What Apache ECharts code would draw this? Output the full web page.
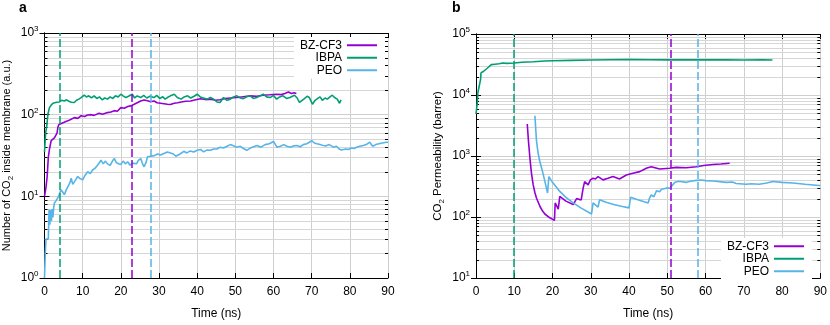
<!DOCTYPE html>
<html>
<head>
<meta charset="utf-8">
<script src="https://cdn.jsdelivr.net/npm/echarts@6/dist/echarts.min.js"></script>
<style>
  html, body { margin: 0; padding: 0; background: #fff; }
  #chart { width: 830px; height: 325px; }
</style>
</head>
<body>
<div id="chart"></div>
<script>
  // 名称与颜色
  const names = ['BZ-CF3', 'IBPA', 'PEO']
  const colors = ['#9400d3', '#009e73', '#56b4e9']

  // a: 膜内CO2数目 [t(ns), 数目]
  const bzA = [[0, 10], [0.4, 13], [0.7, 17.5], [1.0, 30], [1.3, 38], [1.75, 48], [2.2, 50], [2.6, 52], [3.0, 54], [3.3, 60],
    [3.5, 70], [3.8, 76], [4.2, 79], [5.0, 80], [6.1, 84], [7.0, 88], [7.8, 92], [8.7, 90], [9.6, 97], [10.5, 95],
    [11.3, 99], [12.2, 100], [13.0, 98], [14.3, 104], [15.2, 101], [16.5, 106], [17.4, 108], [18.3, 112], [19.1, 110], [20.0, 122],
    [20.9, 120], [21.8, 126], [22.6, 128], [23.5, 134], [24.3, 140], [25.2, 147], [26.1, 151], [27.0, 148], [27.8, 144], [28.7, 147],
    [29.5, 140], [30.4, 138], [31.3, 136], [32.2, 134], [33.0, 133], [34.0, 138], [34.9, 140], [35.8, 143], [37.0, 146], [38.3, 147],
    [39.6, 152], [40.9, 157], [42.2, 153], [43.5, 155], [44.8, 150], [46.0, 152], [47.3, 158], [48.7, 160], [50.4, 162], [52.1, 166],
    [53.9, 170], [55.6, 168], [57.3, 173], [59.0, 175], [60.8, 178], [62.0, 176], [63.0, 182], [63.9, 189], [64.7, 182], [65.4, 186], [66.0, 182]]
  const ibpaA = [[0, 35], [0.3, 60], [0.6, 73], [0.9, 102], [1.3, 122], [1.7, 130], [2.2, 138], [2.7, 136], [3.2, 142], [3.9, 143],
    [4.5, 150], [5.2, 147], [5.8, 152], [6.4, 146], [7.0, 142], [7.8, 141], [8.4, 150], [9.0, 155], [9.6, 162], [10.4, 173],
    [11.0, 165], [11.6, 170], [12.3, 160], [13.0, 170], [13.7, 158], [14.4, 165], [15.1, 152], [15.8, 160], [16.5, 155], [17.2, 165],
    [17.9, 158], [18.6, 170], [19.3, 165], [20.0, 178], [20.6, 170], [21.3, 162], [22.0, 168], [23.0, 178], [23.6, 160], [24.3, 170],
    [25.2, 162], [26.0, 172], [26.8, 160], [27.6, 168], [28.7, 162], [29.4, 172], [30.2, 158], [31.0, 166], [31.6, 155], [32.2, 162],
    [33.0, 170], [34.0, 178], [34.8, 162], [35.8, 155], [36.6, 165], [37.5, 170], [38.3, 160], [39.2, 168], [40.0, 178], [40.8, 165],
    [41.6, 160], [42.6, 155], [43.5, 162], [44.3, 155], [45.2, 143], [46.0, 141], [46.9, 162], [47.8, 150], [48.7, 155], [49.5, 165],
    [50.4, 170], [51.3, 160], [52.1, 157], [53.0, 166], [53.9, 170], [54.7, 158], [55.6, 162], [56.5, 170], [57.3, 178], [58.2, 165],
    [59.1, 162], [60.0, 172], [60.8, 155], [61.6, 165], [62.5, 170], [63.4, 158], [64.3, 162], [65.5, 173], [66.2, 160], [66.8, 141],
    [67.5, 150], [68.1, 157], [68.8, 168], [69.4, 162], [70.2, 134], [70.9, 150], [71.5, 157], [72.2, 165], [72.8, 150], [73.5, 160],
    [74.1, 155], [74.8, 165], [75.4, 173], [76.0, 162], [76.7, 155], [77.3, 138], [77.7, 152]]
  const peoA = [[0, 1], [0.2, 2], [0.4, 3], [1.0, 3], [1.2, 6.9], [1.4, 4.5], [1.6, 6.8], [1.8, 5], [2.0, 7], [2.2, 5.5],
    [2.4, 7.2], [2.6, 8.3], [3.0, 8.8], [3.7, 10], [4.3, 12], [4.8, 11.2], [5.2, 10.5], [5.7, 12], [6.1, 12.6], [6.6, 14.5],
    [7.0, 16.7], [7.4, 14], [7.8, 13.8], [8.2, 16], [8.7, 17.5], [9.3, 16.5], [10.0, 15.9], [10.6, 18], [11.3, 20], [12.0, 19],
    [12.6, 21], [13.2, 22], [13.9, 24], [14.4, 26], [14.8, 27.7], [15.4, 25], [16.0, 27], [16.5, 25], [17.2, 24], [17.8, 27],
    [18.3, 29], [18.8, 26], [19.4, 25], [20.0, 24.6], [20.6, 27], [21.2, 25], [21.8, 26.5], [22.4, 24], [23.0, 25.5], [23.5, 26.5],
    [24.1, 25], [24.6, 27.5], [25.2, 29], [25.7, 25], [26.1, 23], [26.6, 26], [27.0, 30.5], [27.4, 29], [27.8, 31], [28.3, 30],
    [28.8, 31.5], [29.6, 33], [30.4, 32], [31.3, 33.5], [32.2, 35], [33.0, 34], [33.8, 33], [34.4, 31], [34.8, 30.5], [35.5, 33],
    [36.5, 35.6], [37.3, 34], [38.2, 36], [39.1, 35], [40.0, 36.6], [40.9, 37.5], [41.7, 35], [42.6, 37], [43.5, 36.6], [44.3, 38],
    [45.2, 38], [46.0, 40], [46.9, 39], [47.8, 41], [48.7, 43], [49.5, 41.5], [50.4, 40], [51.3, 41], [52.1, 38.5], [53.0, 36.6],
    [53.9, 39], [54.8, 40.5], [55.7, 42], [56.7, 40], [57.8, 43], [58.9, 44], [60.0, 47], [60.9, 40], [61.8, 41], [62.7, 43],
    [63.5, 41], [64.4, 40], [65.3, 41.5], [66.1, 42], [67.0, 40.5], [67.8, 43], [68.7, 44], [69.4, 46], [70.0, 48], [70.7, 45],
    [71.4, 44], [72.2, 43], [73.0, 42], [73.8, 41.5], [74.6, 43], [75.7, 40], [76.5, 41], [77.2, 38], [77.8, 37], [78.3, 36],
    [78.9, 38], [79.6, 37.5], [80.4, 39], [81.2, 38.5], [81.8, 40], [82.6, 41], [83.5, 42], [84.3, 43], [85.2, 46], [86.0, 41],
    [86.8, 43], [87.6, 44], [88.5, 45], [89.6, 46], [90, 46]]

  // b: CO2渗透率 [t(ns), barrer]
  const bzB = [[13.4, 3350], [13.7, 1800], [14.1, 910], [14.5, 520], [14.95, 336], [15.4, 250], [15.8, 205], [16.7, 150], [17.4, 125],
    [18.0, 112], [19.2, 98], [20.5, 88], [20.7, 170], [21.5, 135], [21.9, 218], [23.5, 182], [25.4, 160], [25.8, 155], [26.3, 200],
    [26.7, 200], [27.5, 190], [28.0, 297], [28.4, 381], [29.3, 336], [29.9, 406], [30.6, 432], [31.2, 420], [31.9, 460], [33.2, 406],
    [34.5, 432], [35.8, 460], [37.5, 420], [39.3, 489], [41.0, 521], [42.8, 555], [44.5, 630], [45.8, 668], [48.0, 611], [50.6, 630],
    [52.3, 650], [55.0, 640], [57.6, 668], [59.5, 700], [61.9, 727], [64.0, 740], [66.3, 760]]
  const ibpaB = [[0, 4900], [0.3, 7000], [0.5, 11000], [1.0, 11500], [1.2, 18000], [1.3, 23000], [2.0, 24500], [3.0, 27700], [3.5, 28500],
    [4.0, 31500], [5.0, 32000], [6.0, 32500], [7.0, 33500], [8.0, 33000], [10, 33500], [12, 34500], [15, 35000], [18, 36000], [20, 36500],
    [25, 37000], [30, 37500], [35, 37800], [40, 38000], [45, 37800], [50, 37700], [55, 37600], [60, 37700], [65, 37600], [70, 37500],
    [75, 37700], [77.5, 37500]]
  const peoB = [[15.4, 4570], [15.8, 1800], [16.2, 1150], [16.7, 805], [17.2, 620], [17.6, 490], [18.2, 340], [18.7, 247], [19.05, 460],
    [20.0, 370], [21.9, 263], [23.5, 210], [25.4, 170], [27.5, 140], [30.2, 112], [30.6, 170], [31.9, 145], [32.3, 192], [34.0, 175],
    [36.0, 160], [38.0, 150], [40.0, 141], [40.4, 210], [42.5, 190], [45.0, 170], [45.3, 200], [45.8, 230], [46.5, 215], [47.2, 270],
    [48.0, 260], [48.5, 285], [49.7, 297], [50.8, 297], [51.3, 330], [52.0, 370], [52.3, 370], [53, 385], [55, 370], [56, 385],
    [57.6, 398], [59, 405], [60, 395], [62, 390], [65.4, 370], [67, 375], [68, 355], [70.6, 345], [72, 350], [74, 345], [76, 360],
    [77.6, 382], [80, 370], [82.8, 360], [86, 345], [89.7, 329], [90, 328]]

  // 竖直虚线位置 (BZ-CF3, IBPA, PEO)
  const cutA = [22.9, 3.9, 27.9]
  const cutB = [51.0, 9.9, 58.0]

  // 坐标轴
  const xTicks = [0, 90, 10]
  const decadesA = [1, 10, 100]
  const decadesB = [10, 100, 1000, 10000]
  const minorSteps = [2, 3, 4, 5, 6, 7, 8, 9]

  const font = 'Liberation Sans, Arial, sans-serif'
  const minorOf = (decades) => decades.flatMap(d => minorSteps.map(s => d * s))

  function powLabel (v) {
    return '{b|10}{s|' + Math.round(Math.log10(v)) + '}'
  }

  // 次刻度与次网格线
  function minorGrid (params, api) {
    const v = api.value(1)
    const a = api.coord([xTicks[0], v])
    const b = api.coord([xTicks[1], v])
    const y = Math.round(a[1]) + 0.5
    return {
      type: 'group',
      children: [
        {type: 'line', shape: {x1: a[0], y1: y, x2: b[0], y2: y}, style: {stroke: '#d6d6d6', lineWidth: 1}},
        {type: 'line', shape: {x1: a[0], y1: y, x2: a[0] + 3, y2: y}, style: {stroke: '#000', lineWidth: 1}},
        {type: 'line', shape: {x1: b[0] - 3, y1: y, x2: b[0], y2: y}, style: {stroke: '#000', lineWidth: 1}}
      ]
    }
  }

  function xAxes (gridIndex) {
    return [{
      gridIndex: gridIndex,
      type: 'value',
      min: xTicks[0],
      max: xTicks[1],
      interval: xTicks[2],
      position: 'bottom',
      axisLine: {lineStyle: {color: '#000', width: 1}},
      axisTick: {inside: true, length: 5, lineStyle: {color: '#000'}},
      axisLabel: {fontSize: 12, color: '#000', margin: 8, fontFamily: font},
      splitLine: {show: true, lineStyle: {color: '#cfcfcf', width: 1}},
      name: 'Time (ns)',
      nameLocation: 'middle',
      nameGap: 30,
      nameTextStyle: {fontSize: 12, color: '#000', fontFamily: font}
    }, {
      gridIndex: gridIndex,
      type: 'value',
      min: xTicks[0],
      max: xTicks[1],
      interval: xTicks[2],
      position: 'top',
      axisLine: {lineStyle: {color: '#000', width: 1}},
      axisTick: {inside: true, length: 5, lineStyle: {color: '#000'}},
      axisLabel: {show: false},
      splitLine: {show: false}
    }]
  }

  function yAxes (gridIndex, decades, nameParts, nameSize) {
    const min = decades[0]
    const max = decades[decades.length - 1] * 10
    return [{
      gridIndex: gridIndex,
      type: 'log',
      logBase: 10,
      min: min,
      max: max,
      position: 'left',
      axisLine: {lineStyle: {color: '#000', width: 1}},
      axisTick: {inside: true, length: 5, lineStyle: {color: '#000'}},
      axisLabel: {
        formatter: powLabel,
        margin: 6,
        rich: {
          b: {fontSize: 12, color: '#000', lineHeight: 16, fontFamily: font},
          s: {fontSize: 8, color: '#000', lineHeight: 8, verticalAlign: 'top', fontFamily: font}
        }
      },
      splitLine: {show: true, lineStyle: {color: '#cfcfcf', width: 1}},
      name: '{n|' + nameParts[0] + '}{u|2}{n|' + nameParts[1] + '}',
      nameLocation: 'middle',
      nameGap: 30,
      nameTextStyle: {
        rich: {
          n: {fontSize: nameSize, color: '#000', lineHeight: 16, fontFamily: font},
          u: {fontSize: 8, color: '#000', lineHeight: 8, verticalAlign: 'bottom', fontFamily: font}
        }
      }
    }, {
      gridIndex: gridIndex,
      type: 'log',
      logBase: 10,
      min: min,
      max: max,
      position: 'right',
      axisLine: {lineStyle: {color: '#000', width: 1}},
      axisTick: {inside: true, length: 5, lineStyle: {color: '#000'}},
      axisLabel: {show: false},
      splitLine: {show: false}
    }]
  }

  function lineSeries (data, idx, axisIndex, cut) {
    return {
      name: names[idx],
      type: 'line',
      xAxisIndex: axisIndex,
      yAxisIndex: axisIndex,
      data: data,
      color: colors[idx],
      showSymbol: false,
      symbol: 'none',
      lineStyle: {width: 1.6, color: colors[idx]},
      z: 3,
      markLine: {
        silent: true,
        symbol: ['none', 'none'],
        label: {show: false},
        lineStyle: {type: [8, 3], width: 1.5, color: colors[idx]},
        data: [{xAxis: cut}]
      }
    }
  }

  function gridSeries (decades, axisIndex) {
    return {
      type: 'custom',
      xAxisIndex: axisIndex,
      yAxisIndex: axisIndex,
      silent: true,
      z: 1,
      renderItem: minorGrid,
      data: minorOf(decades).map(v => [0, v])
    }
  }

  function legendAt (right, top) {
    return {
      data: names,
      orient: 'vertical',
      align: 'right',
      right: right,
      top: top,
      icon: 'rect',
      itemWidth: 30,
      itemHeight: 2,
      itemGap: 0,
      padding: [2, 8, 2, 6],
      backgroundColor: '#fff',
      selectedMode: false,
      textStyle: {fontSize: 12, color: '#000', lineHeight: 12.5, fontFamily: font}
    }
  }

  const chart = echarts.init(document.getElementById('chart'))
  chart.setOption({
    animation: false,
    textStyle: {fontFamily: font},
    title: [
      {text: 'a', left: 19, top: 1, padding: 0, textStyle: {fontSize: 14, fontWeight: 'bold', color: '#000', fontFamily: font}},
      {text: 'b', left: 452, top: 1, padding: 0, textStyle: {fontSize: 14, fontWeight: 'bold', color: '#000', fontFamily: font}}
    ],
    grid: [
      {left: 43, top: 33, width: 345, height: 248},
      {left: 476, top: 34, width: 345, height: 247}
    ],
    legend: [legendAt(445, 37), legendAt(18, 238)],
    xAxis: xAxes(0).concat(xAxes(1)),
    yAxis: yAxes(0, decadesA, ['Number of CO', ' inside membrane (a.u.)'], 11)
      .concat(yAxes(1, decadesB, ['CO', ' Permeability (barrer)'], 11.5)),
    series: [
      gridSeries(decadesA, 0),
      gridSeries(decadesB, 2),
      lineSeries(bzA, 0, 0, cutA[0]),
      lineSeries(ibpaA, 1, 0, cutA[1]),
      lineSeries(peoA, 2, 0, cutA[2]),
      lineSeries(bzB, 0, 2, cutB[0]),
      lineSeries(ibpaB, 1, 2, cutB[1]),
      lineSeries(peoB, 2, 2, cutB[2])
    ]
  })
</script>
</body>
</html>
